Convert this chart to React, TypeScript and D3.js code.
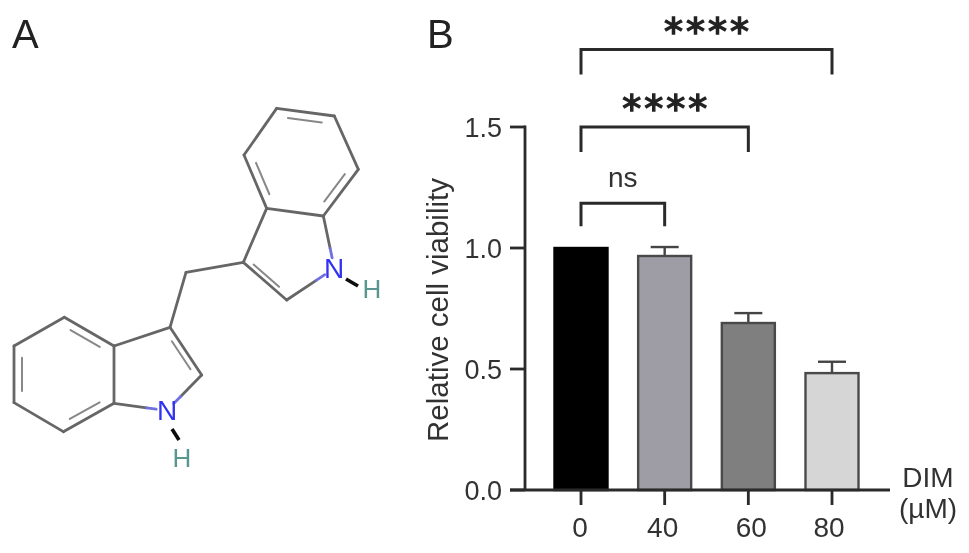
import React from "react";
import * as d3 from "d3";

const categories = ["0", "40", "60", "80"];
const viability = [1.0, 0.967, 0.69, 0.483];
const errors = [0, 0.037, 0.041, 0.047];
const barFills = ["#000000", "#9e9da6", "#7f7f7f", "#d6d6d6"];
const yTicks = [0, 0.5, 1.0, 1.5];
const brackets = [
  { from: "0", to: "80", value: 1.82, drop: 25, label: "****" },
  { from: "0", to: "60", value: 1.5, drop: 25, label: "****" },
  { from: "0", to: "40", value: 1.185, drop: 23, label: "ns" },
];
const labelNudges = [-1, -2, 3, -3];

// Molecule drawn in picture units (zoomed crop coordinates of the structure)
const atoms: Record<string, [number, number]> = {
  a1: [830, 55], a2: [1003, 78], a3: [1075, 238], a4: [970, 378], a5: [800, 355], a6: [732, 195],
  n1: [1003, 535], c1: [860, 630], c2: [730, 517], ch2: [558, 547],
  c3: [510, 712], c4: [605, 855], n2: [500, 962], b1: [342, 940], b2: [342, 768],
  b3: [193, 682], b4: [42, 768], b5: [42, 938], b6: [190, 1025],
};
const greyBonds = [
  ["a1", "a2"], ["a2", "a3"], ["a3", "a4"], ["a4", "a5"], ["a5", "a6"], ["a6", "a1"],
  ["a5", "c2"], ["c2", "c1"], ["c2", "ch2"], ["ch2", "c3"], ["c3", "c4"], ["c3", "b2"],
  ["b1", "b2"], ["b2", "b3"], ["b3", "b4"], ["b4", "b5"], ["b5", "b6"], ["b6", "b1"],
];
const innerBonds = [
  ["a1", "a2"], ["a3", "a4"], ["a5", "a6"], ["c2", "c1"], ["c3", "c4"], ["b2", "b3"], ["b4", "b5"], ["b6", "b1"],
];
const centres: Record<string, [number, number]> = {
  a1: [904, 217], a3: [904, 217], a5: [904, 217], c2: [820, 470], c3: [470, 860], b2: [192, 853], b4: [192, 853], b6: [192, 853],
};
const nitrogenBonds: [string, string, number][] = [["a4", "n1", 0.62], ["c1", "n1", 0.62], ["c4", "n2", 0.6], ["b1", "n2", 0.62]];

const FONT = "'Liberation Sans', Arial, sans-serif";
const mx = d3.scaleLinear().domain([0, 400]).range([0, 400]);
const my = d3.scaleLinear().domain([0, 390]).range([90, 480]);
const px = (p: [number, number]) => mx(p[0] / 3);
const py = (p: [number, number]) => my(p[1] / 3);

export default function App() {
  const x = d3.scalePoint<string>().domain(categories).range([581, 832]);
  const y = d3.scaleLinear().domain([0, 1.5]).range([490, 127]);
  const barW = 53;
  const axis = "#2a2a2a";
  const bondC = "#666666";

  return (
    <svg width={969} height={553} style={{ position: "absolute", left: 0, top: 0, background: "#fff" }} fontFamily={FONT}>
      <defs>
        <filter id="soft" x="-5%" y="-5%" width="110%" height="110%">
          <feGaussianBlur stdDeviation="0.5" />
        </filter>
        <filter id="softer" x="-5%" y="-5%" width="110%" height="110%">
          <feGaussianBlur stdDeviation="0.7" />
        </filter>
      </defs>
      <g filter="url(#soft)">
        <text x={12} y={48} fontSize={40} fill="#222">A</text>
        <text x={427} y={48} fontSize={40} fill="#222">B</text>

        {/* bars */}
        {categories.map((c, i) => {
          const cx = x(c)!;
          return (
            <g key={c}>
              {errors[i] > 0 && (
                <g stroke="#444" strokeWidth={2.4}>
                  <line x1={cx} x2={cx} y1={y(viability[i])} y2={y(viability[i] + errors[i])} />
                  <line x1={cx - 14} x2={cx + 14} y1={y(viability[i] + errors[i])} y2={y(viability[i] + errors[i])} />
                </g>
              )}
              <rect x={cx - barW / 2} y={y(viability[i])} width={barW} height={y(0) - y(viability[i])}
                fill={barFills[i]} stroke={i === 0 ? "#000" : "#4a4a4a"} strokeWidth={2.4} />
            </g>
          );
        })}

        {/* axes */}
        <g stroke={axis} strokeWidth={2.8} fill="none">
          <line x1={525} x2={525} y1={y(1.5) - 1.4} y2={y(0)} />
          <line x1={510} x2={890} y1={y(0)} y2={y(0)} />
          {yTicks.map((t) => <line key={t} x1={510} x2={525} y1={y(t)} y2={y(t)} />)}
          {categories.map((c) => <line key={c} x1={x(c)} x2={x(c)} y1={y(0)} y2={505} />)}
        </g>
        {yTicks.map((t) => (
          <text key={t} x={502} y={y(t) + 9.5} fontSize={27} fill="#333" textAnchor="end">{t.toFixed(1)}</text>
        ))}
        {categories.map((c, i) => (
          <text key={c} x={x(c)! + labelNudges[i]} y={537} fontSize={28} fill="#333" textAnchor="middle">{c}</text>
        ))}
        <text transform="translate(448,310) rotate(-90)" fontSize={29.5} fill="#333" textAnchor="middle">Relative cell viability</text>
        <text x={928} y={487} fontSize={28} fill="#333" textAnchor="middle">DIM</text>
        <text x={928} y={518} fontSize={28} fill="#333" textAnchor="middle">(µM)</text>

        {/* brackets */}
        {brackets.map((b) => {
          const x0 = x(b.from)!, x1 = x(b.to)!, yy = y(b.value);
          const mid = (x0 + x1) / 2;
          return (
            <g key={b.to}>
              <path d={`M${x0},${yy + b.drop} V${yy} H${x1} V${yy + b.drop}`} fill="none" stroke={axis} strokeWidth={3} />
              {b.label === "ns" ? (
                <text x={mid} y={yy - 16} fontSize={28} fill="#333" textAnchor="middle">ns</text>
              ) : (
                <text x={mid + 1.5} y={yy - 5} fontSize={38} letterSpacing={3} fontFamily="'DejaVu Sans', sans-serif"
                  fill="#222" stroke="#222" strokeWidth={1.4} textAnchor="middle">{b.label}</text>
              )}
            </g>
          );
        })}
      </g>

      {/* molecule */}
      <g filter="url(#softer)">
        <g stroke={bondC} strokeWidth={2.8} strokeLinecap="round" fill="none">
          {greyBonds.map(([a, b], i) => (
            <line key={i} x1={px(atoms[a])} y1={py(atoms[a])} x2={px(atoms[b])} y2={py(atoms[b])} />
          ))}
          {innerBonds.map(([a, b], i) => {
            const A = atoms[a], B = atoms[b], c = centres[a];
            const t = 0.15, s = 0.84;
            const p1: [number, number] = [c[0] + (A[0] + (B[0] - A[0]) * t - c[0]) * s, c[1] + (A[1] + (B[1] - A[1]) * t - c[1]) * s];
            const p2: [number, number] = [c[0] + (B[0] + (A[0] - B[0]) * t - c[0]) * s, c[1] + (B[1] + (A[1] - B[1]) * t - c[1]) * s];
            return <line key={i} x1={px(p1)} y1={py(p1)} x2={px(p2)} y2={py(p2)} strokeWidth={2} stroke="#888" />;
          })}
          {nitrogenBonds.map(([a, b, f], i) => {
            const A = atoms[a], B = atoms[b];
            const m: [number, number] = [A[0] + (B[0] - A[0]) * f, A[1] + (B[1] - A[1]) * f];
            const e: [number, number] = [A[0] + (B[0] - A[0]) * 0.8, A[1] + (B[1] - A[1]) * 0.8];
            return (
              <g key={i}>
                <line x1={px(A)} y1={py(A)} x2={px(m)} y2={py(m)} />
                <line x1={px(m)} y1={py(m)} x2={px(e)} y2={py(e)} stroke="#6f6fe0" />
              </g>
            );
          })}
        </g>
        <line x1={346} y1={279} x2={358} y2={286} stroke="#111" strokeWidth={3.6} />
        <line x1={172} y1={429} x2={179} y2={440} stroke="#111" strokeWidth={3.6} />
        <text x={334} y={278} fontSize={28} fill="#3030f5" textAnchor="middle">N</text>
        <text x={372} y={298} fontSize={26} fill="#5a9690" textAnchor="middle">H</text>
        <text x={167} y={420} fontSize={28} fill="#3030f5" textAnchor="middle">N</text>
        <text x={182} y={467} fontSize={26} fill="#5a9690" textAnchor="middle">H</text>
      </g>
    </svg>
  );
}
